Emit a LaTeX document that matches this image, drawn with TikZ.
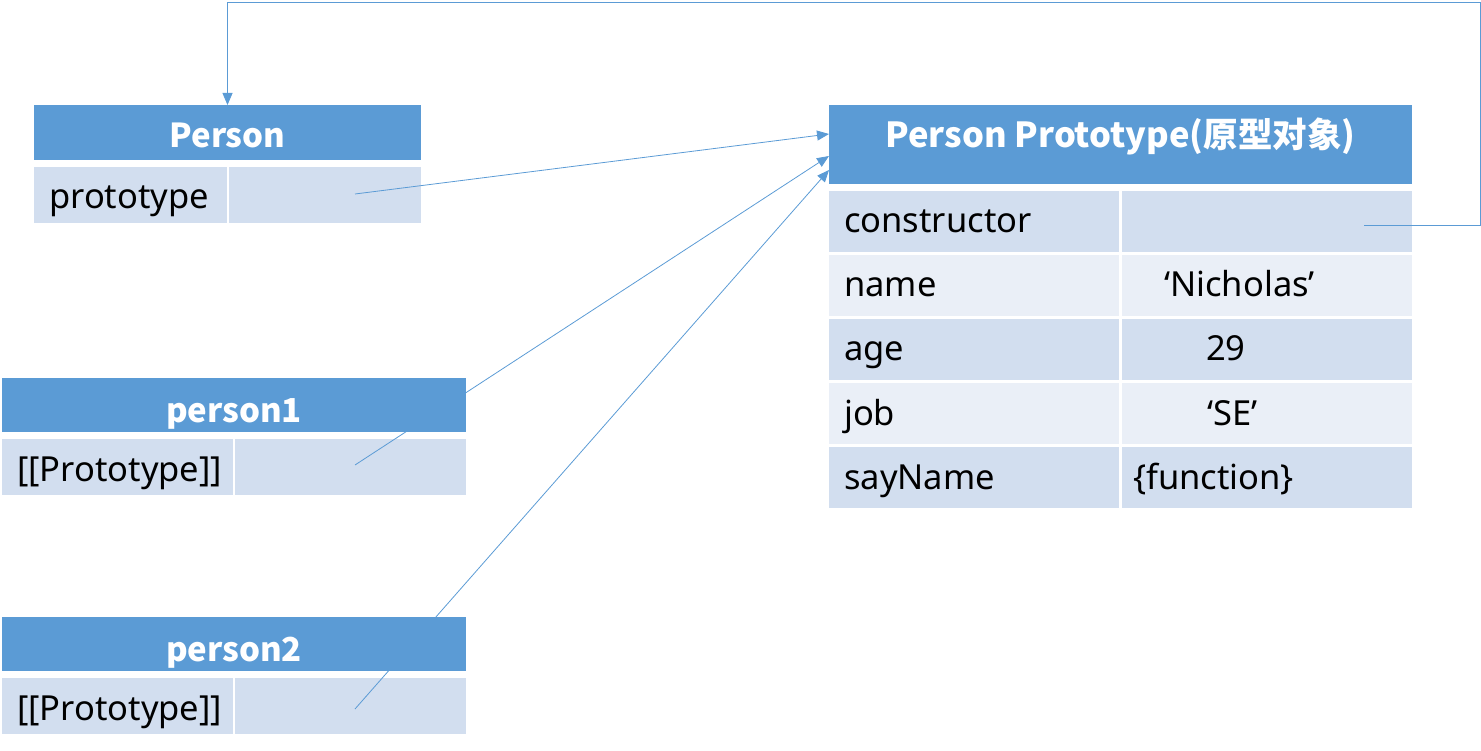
\documentclass[tikz,border=0pt]{standalone}
\usepackage{fontspec}
\setmainfont{Noto Sans}
\newfontfamily\cjk{Noto Sans CJK SC}
\usetikzlibrary{positioning, arrows.meta}
\definecolor{hdrblue}{HTML}{5B9BD5}
\definecolor{rowdark}{HTML}{D2DEEF}
\definecolor{rowlight}{HTML}{EAEFF7}
\tikzset{
    box/.style={anchor=north west, inner sep=0pt, outer sep=0pt},
    hdr/.style={box, fill=hdrblue},
    celldark/.style={box, fill=rowdark},
    celllight/.style={box, fill=rowlight},
    ttl/.style={anchor=base, inner sep=0pt, text=white, font=\fontsize{33}{38}\selectfont\cjk\bfseries},
    lbl/.style={anchor=base west, inner sep=0pt, font=\fontsize{34.5}{40}\selectfont},
    link/.style={draw=hdrblue, line width=0.8pt, -{Triangle[length=12pt,width=10pt]}}
}

\begin{document}
\begin{tikzpicture}[x=1pt,y=-1pt]
    \useasboundingbox (0,0) rectangle (1481,751);
    % Person
    \node[hdr, minimum width=387pt, minimum height=55pt] (person-h) at (34,105) {};
    \node[celldark, minimum width=193pt, minimum height=56pt] (person-k) at (34,167) {};
    \node[celldark, minimum width=192pt, minimum height=56pt] (person-v) at (229,167) {};
    \node[ttl] (person-t) at ([yshift=-43pt]person-h.north) {Person};
    \node[lbl] (person-l) at ([xshift=15pt,yshift=-42pt]person-k.north west) {prototype};
    % person1, person2
    \foreach \n/\top in {1/378, 2/617}{
        \node[hdr, minimum width=464pt, minimum height=54pt] (p\n-h) at (2,\top) {};
        \node[celldark, minimum width=231pt, minimum height=56pt] (p\n-k) at (2,\top+61) {};
        \node[celldark, minimum width=231pt, minimum height=56pt] (p\n-v) at (235,\top+61) {};
        \node[ttl] (p\n-t) at ([yshift=-44pt]p\n-h.north) {person\n};
        \node[lbl] (p\n-l) at ([xshift=15pt,yshift=-42pt]p\n-k.north west) {[[Prototype]]};
    }
    % Person Prototype
    \node[hdr, minimum width=583pt, minimum height=79pt] (proto-h) at (829,105) {};
    \node[ttl, font=\fontsize{34.5}{40}\selectfont\cjk\bfseries] (proto-t) at ([yshift=-43pt]proto-h.north) {Person Prototype(原型对象)};
    \foreach \i/\key/\val/\dx/\col in {0/constructor//0/rowdark,
                                    1/name/‘Nicholas’/42/rowlight,
                                    2/age/29/84/rowdark,
                                    3/job/‘SE’/85/rowlight,
                                    4/sayName/\{function\}/11/rowdark}{
        \node[box, fill=\col, minimum width=290pt, minimum height=61pt] (r\i-k) at (829,191+64*\i) {};
        \node[box, fill=\col, minimum width=290pt, minimum height=61pt] (r\i-v) at (1122,191+64*\i) {};
        \node[lbl] (r\i-l) at ([xshift=15pt,yshift=-42pt]r\i-k.north west) {\key};
        \node[lbl] (r\i-x) at ([xshift=\dx pt,yshift=-42pt]r\i-v.north west) {\val};
    }
    % links
    \coordinate (person-o) at ([xshift=-66pt,yshift=-27pt]person-v.north east);
    \coordinate (p1-o) at ([xshift=-111pt,yshift=-26pt]p1-v.north east);
    \coordinate (p2-o) at ([xshift=-111pt,yshift=-31pt]p2-v.north east);
    \coordinate (r0-o) at ([xshift=-48pt,yshift=-34pt]r0-v.north east);
    \draw[link] (person-o) -- ([yshift=-29pt]proto-h.north west);
    \draw[link] (p1-o) -- ([yshift=-51pt]proto-h.north west);
    \draw[link] (p2-o) -- ([yshift=-65pt]proto-h.north west);
    \draw[link] (r0-o) -| (1480,2) -| (person-h.north);
\end{tikzpicture}
\end{document}
